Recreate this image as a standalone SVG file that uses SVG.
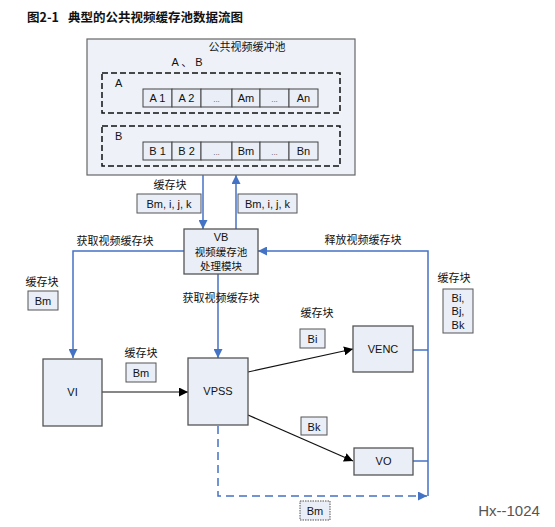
<svg xmlns="http://www.w3.org/2000/svg" width="555" height="527" viewBox="0 0 555 527">
<defs>
<marker id="ab" viewBox="0 0 10 10" refX="10" refY="5" markerWidth="9" markerHeight="9" markerUnits="userSpaceOnUse" orient="auto"><path d="M0,0 L10,5 L0,10 z" fill="#4472C4"/></marker>
<marker id="ak" viewBox="0 0 10 10" refX="10" refY="5" markerWidth="9" markerHeight="9" markerUnits="userSpaceOnUse" orient="auto"><path d="M0,0 L10,5 L0,10 z" fill="#000"/></marker>
</defs>
<style>
text{font-family:"Liberation Sans","Noto Sans CJK SC",sans-serif;font-size:11px;fill:#111}
.cjk{font-family:"Noto Sans CJK SC","Liberation Sans",sans-serif;font-size:11px}
.node{fill:#E9EEF7;stroke:#555;stroke-width:1.3}
.lab{fill:#E9EEF7;stroke:#555;stroke-width:1}
.cell{fill:#E9EEF7;stroke:#444;stroke-width:1}
.dash{fill:none;stroke:#111;stroke-width:1.5;stroke-dasharray:6,3}
.blue{fill:none;stroke:#4472C4;stroke-width:1.5}
.black{fill:none;stroke:#111;stroke-width:1.2}
.mid{text-anchor:middle}
.ell{font-size:8px;fill:#555}
</style>
<rect width="555" height="527" fill="#fff"/>
<text x="27" y="22" class="cjk" style="font-weight:bold;font-size:12.5px">图2-1</text>
<text x="68" y="22" class="cjk" style="font-weight:bold;font-size:12.5px">典型的公共视频缓存池数据流图</text>

<g id="pool">
<rect x="87" y="39" width="268" height="136" fill="#EEF1F8" stroke="#666" stroke-width="1.2"/>
<text x="247" y="51" class="cjk mid">公共视频缓冲池</text>
<text x="187" y="66" class="mid">A 、 B</text>
</g>
<g id="groupA">
<rect x="102" y="73" width="238" height="40" class="dash"/>
<text x="115" y="87">A</text>
<rect x="143" y="89" width="29" height="18" class="cell"/><text x="157.5" y="102" class="mid">A 1</text>
<rect x="172" y="89" width="29" height="18" class="cell"/><text x="186.5" y="102" class="mid">A 2</text>
<rect x="201" y="89" width="31" height="18" class="cell"/><text x="216.5" y="102" class="mid ell">...</text>
<rect x="232" y="89" width="28" height="18" class="cell"/><text x="246" y="102" class="mid">Am</text>
<rect x="260" y="89" width="29" height="18" class="cell"/><text x="274.5" y="102" class="mid ell">...</text>
<rect x="289" y="89" width="29" height="18" class="cell"/><text x="303.5" y="102" class="mid">An</text>
</g>
<g id="groupB">
<rect x="102" y="126" width="238" height="40" class="dash"/>
<text x="115" y="140">B</text>
<rect x="143" y="142" width="29" height="18" class="cell"/><text x="157.5" y="155" class="mid">B 1</text>
<rect x="172" y="142" width="29" height="18" class="cell"/><text x="186.5" y="155" class="mid">B 2</text>
<rect x="201" y="142" width="31" height="18" class="cell"/><text x="216.5" y="155" class="mid ell">...</text>
<rect x="232" y="142" width="28" height="18" class="cell"/><text x="246" y="155" class="mid">Bm</text>
<rect x="260" y="142" width="29" height="18" class="cell"/><text x="274.5" y="155" class="mid ell">...</text>
<rect x="289" y="142" width="29" height="18" class="cell"/><text x="303.5" y="155" class="mid">Bn</text>
</g>

<g id="connectors">
<line x1="203" y1="175" x2="203" y2="229" class="blue" marker-end="url(#ab)"/>
<line x1="236" y1="229" x2="236" y2="175" class="blue" marker-end="url(#ab)"/>
<polyline points="184,251 73,251 73,358" class="blue" marker-end="url(#ab)"/>
<line x1="218" y1="274" x2="218" y2="358" class="blue" marker-end="url(#ab)"/>
<polyline points="413,350 428,350" class="blue"/>
<polyline points="413,461 428,461" class="blue"/>
<polyline points="428,496 428,251 258,251" class="blue" marker-end="url(#ab)"/>
<polyline points="218,426 218,496 427,496" class="blue" stroke-width="2.2" stroke-dasharray="8,5" marker-end="url(#ab)"/>
<line x1="102" y1="392" x2="188" y2="392" class="black" marker-end="url(#ak)"/>
<line x1="248" y1="372" x2="353" y2="349" class="black" marker-end="url(#ak)"/>
<line x1="248" y1="415" x2="353" y2="461" class="black" marker-end="url(#ak)"/>
</g>

<g id="labels">
<text x="170" y="189" class="cjk mid">缓存块</text>
<rect x="137" y="194" width="64" height="19" class="lab"/><text x="169" y="208" class="mid">Bm, i, j, k</text>
<rect x="238" y="194" width="59" height="19" class="lab"/><text x="267.5" y="208" class="mid">Bm, i, j, k</text>
<text x="115" y="245" class="cjk mid">获取视频缓存块</text>
<text x="363" y="244" class="cjk mid">释放视频缓存块</text>
<text x="221" y="302" class="cjk mid">获取视频缓存块</text>
<text x="42" y="286" class="cjk mid">缓存块</text>
<rect x="28" y="291" width="30" height="19" class="lab"/><text x="43" y="305" class="mid">Bm</text>
<text x="141" y="357" class="cjk mid">缓存块</text>
<rect x="126" y="363" width="30" height="19" class="lab"/><text x="141" y="377" class="mid">Bm</text>
<text x="317" y="317" class="cjk mid">缓存块</text>
<rect x="300" y="329" width="25" height="19" class="lab"/><text x="312.5" y="343" class="mid">Bi</text>
<rect x="301" y="417" width="26" height="18" class="lab"/><text x="314" y="431" class="mid">Bk</text>
<text x="454" y="282" class="cjk mid">缓存块</text>
<rect x="443" y="289" width="30" height="44" class="lab"/>
<text x="458" y="302" class="mid">Bi,</text>
<text x="458" y="315" class="mid">Bj,</text>
<text x="458" y="329" class="mid">Bk</text>
<rect x="300" y="501" width="30" height="19" class="lab" stroke-dasharray="1.5,1"/><text x="315" y="515" class="mid">Bm</text>
</g>

<g id="vb"><rect x="184" y="229" width="74" height="45" class="node"/>
<text x="221" y="241" class="mid">VB</text>
<text x="221" y="255.5" class="cjk mid" style="font-size:10.5px">视频缓存池</text>
<text x="221" y="270" class="cjk mid" style="font-size:10.5px">处理模块</text></g>
<g id="vi"><rect x="43" y="359" width="59" height="67" class="node"/><text x="72.5" y="396" class="mid">VI</text></g>
<g id="vpss"><rect x="188" y="358" width="60" height="67" class="node"/><text x="218" y="395" class="mid">VPSS</text></g>
<g id="venc"><rect x="353" y="326" width="60" height="46" class="node"/><text x="383" y="353" class="mid">VENC</text></g>
<g id="vo"><rect x="354" y="448" width="59" height="27" class="node"/><text x="383.5" y="465" class="mid">VO</text></g>

<text x="509" y="516" class="mid" style="font-size:15px;fill:#555">Hx--1024</text>
</svg>
